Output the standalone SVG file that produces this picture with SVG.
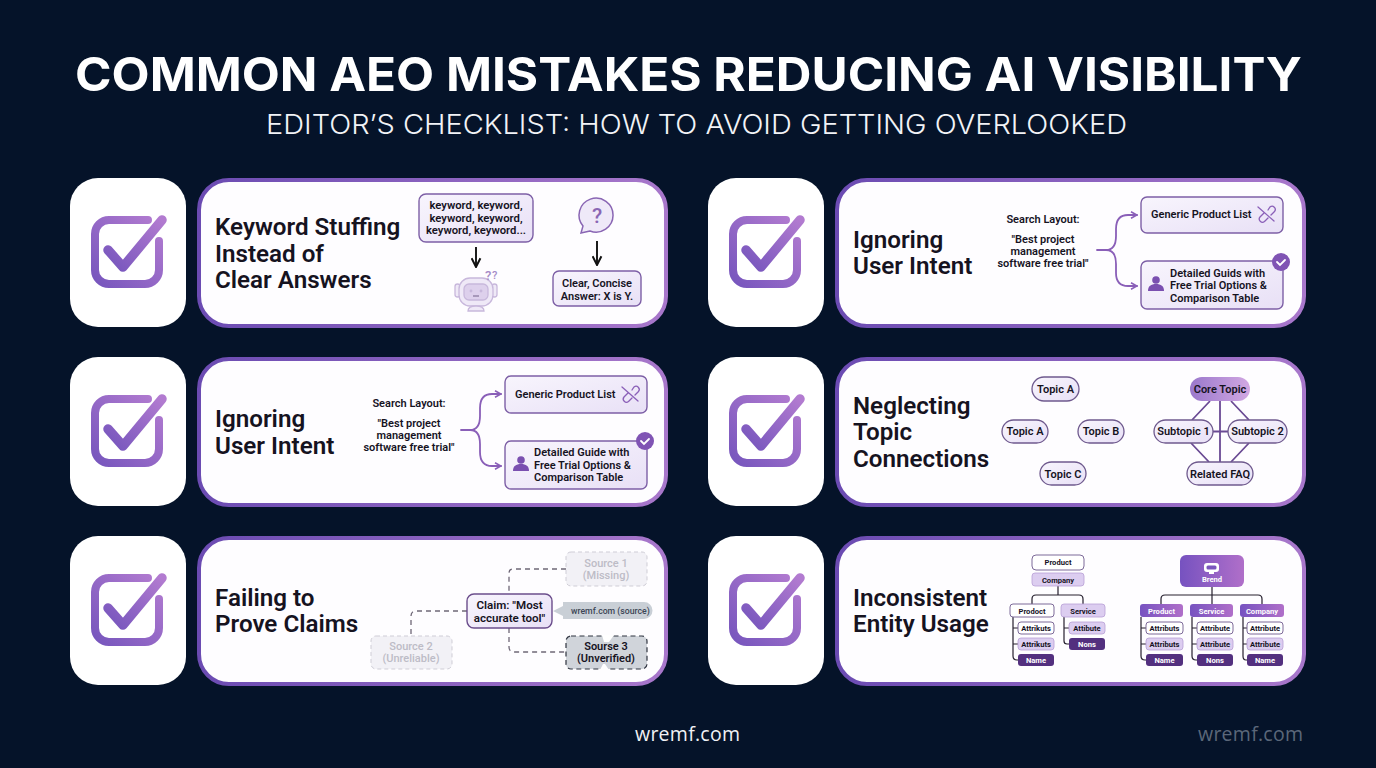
<svg xmlns="http://www.w3.org/2000/svg" width="1376" height="768" viewBox="0 0 1376 768">
<style>
text{font-family:Roboto,"Liberation Sans",sans-serif;fill:#16131f}
.title{font-family:Inter,"Liberation Sans",sans-serif;font-weight:700;font-size:47px;fill:#fff}
.sub{font-family:Inter,"Liberation Sans",sans-serif;font-weight:300;font-size:27.5px;fill:#f2f3f7}
.foot{font-family:"Open Sans","Liberation Sans",sans-serif;font-size:19.500px;fill:#f0f1f5}
.h{font-size:24.200px;font-weight:600}
.s{font-size:11px;font-weight:600;text-anchor:middle}
.l{font-size:11px;font-weight:600}
.t{font-size:7.600px;font-weight:700;text-anchor:middle}
.w{fill:#fff}
.faint{fill:#bdbcc6;font-weight:500}
.tile{fill:#fff}
.card{fill:#fefdff;stroke:url(#cardStroke);stroke-width:4}
.box{fill:url(#pale);stroke:#7d5fa6;stroke-width:1.400}
.pill{fill:url(#pale);stroke:#6f5a8e;stroke-width:1.300}
.ghost{fill:#f2f1f6;stroke:#cfcdd6;stroke-dasharray:4 3}
.br{fill:none;stroke:#8a5fb8;stroke-width:1.800;stroke-linecap:round;stroke-linejoin:round}
.dash{fill:none;stroke:#6f6877;stroke-width:1.300;stroke-dasharray:5 4}
.tree{fill:none;stroke:#26202f;stroke-width:1.200}
.net{stroke:#6a4a94;stroke-width:1.800}
.arrow{fill:none;stroke:#111;stroke-width:1.900}
.nw{fill:#fff;stroke:#7d6a99;stroke-width:1}
.nl{fill:#dccdf0;stroke:#b7a0d6;stroke-width:.8}
.nd{fill:#53307f}
.ng{fill:url(#grad)}
</style>
<defs>
<linearGradient id="cardStroke" x1="0" x2="1" y1="0" y2="0"><stop offset="0" stop-color="#6b4bb2"/><stop offset="1" stop-color="#a877cb"/></linearGradient>
<linearGradient id="grad" x1="0" x2="1" y1="0" y2="0"><stop offset="0" stop-color="#7652c0"/><stop offset="1" stop-color="#b06fc9"/></linearGradient>
<linearGradient id="chk" x1="0" x2="1" y1="1" y2="0"><stop offset="0" stop-color="#7756bd"/><stop offset="1" stop-color="#b27bd0"/></linearGradient>
<linearGradient id="core" x1="0" x2="1" y1="0" y2="0"><stop offset="0" stop-color="#9a78cc"/><stop offset="1" stop-color="#d2a8e2"/></linearGradient>
<linearGradient id="pale" x1="0" x2="1" y1="0" y2="1"><stop offset="0" stop-color="#f8f5fd"/><stop offset="1" stop-color="#e8e0f6"/></linearGradient>
<marker id="op" viewBox="0 0 10 10" refX="8.500" refY="5" markerWidth="8" markerHeight="8" markerUnits="userSpaceOnUse" orient="auto"><path d="M1 1 L8.500 5 L1 9" fill="none" stroke="#8a5fb8" stroke-width="2"/></marker>
<marker id="blk" viewBox="0 0 10 10" refX="9" refY="5" markerWidth="11" markerHeight="11" markerUnits="userSpaceOnUse" orient="auto"><path d="M1 1 L9 5 L1 9" fill="none" stroke="#111" stroke-width="1.800"/></marker>
<g id="check">
<rect x="0" y="0" width="116" height="149" rx="28" class="tile"/>
<path d="M78 42H39a14 14 0 0 0-14 14V92a14 14 0 0 0 14 14H75a14 14 0 0 0 14-14V63" fill="none" stroke="url(#chk)" stroke-width="8" stroke-linecap="round"/>
<path d="M38 72L53 89L92 42" fill="none" stroke="url(#chk)" stroke-width="9.500" stroke-linecap="round" stroke-linejoin="round"/>
</g>
<g id="brk"><path d="M-8-7L8 7M-2-1L-6 3a3.200 3.200 0 0 0 4.500 4.500L2 4M2-4L4-7a3.200 3.200 0 0 1 4.500 4.500L5 1" fill="none" stroke="#8a5fb8" stroke-width="1.300" stroke-linecap="round"/></g>
<g id="person"><circle cx="0" cy="-5" r="3.800" fill="#7a4fb0"/><path d="M-8 6c0-5 3-7 8-7s8 2 8 7z" fill="#7a4fb0"/></g>
<g id="badge"><circle r="9" fill="#8054b4"/><path d="M-4 0l3 3l5-5" fill="none" stroke="#fff" stroke-width="1.800" stroke-linecap="round"/></g>
</defs>
<rect width="1376" height="768" fill="#051329"/>
<g id="header">
<text class="title" x="75" y="91" textLength="1227" lengthAdjust="spacingAndGlyphs">COMMON AEO MISTAKES REDUCING AI VISIBILITY</text>
<text class="sub" x="266" y="134" textLength="861" lengthAdjust="spacingAndGlyphs">EDITOR’S CHECKLIST: HOW TO AVOID GETTING OVERLOOKED</text>
</g>
<g id="card-keyword"><use href="#check" x="70" y="178"/><rect class="card" x="199" y="180" width="467" height="146" rx="30"/>
<text class="h" x="215" y="235">Keyword Stuffing</text><text class="h" x="215" y="262">Instead of</text><text class="h" x="215" y="288">Clear Answers</text></g>
<g id="card-intent-left"><use href="#check" x="70" y="357"/><rect class="card" x="199" y="359" width="467" height="146" rx="30"/>
<text class="h" x="215" y="427">Ignoring</text><text class="h" x="215" y="454">User Intent</text></g>
<g id="card-claims"><use href="#check" x="70" y="536"/><rect class="card" x="199" y="538" width="467" height="146" rx="30"/>
<text class="h" x="215" y="606">Failing to</text><text class="h" x="215" y="632">Prove Claims</text></g>
<g id="card-intent-right"><use href="#check" x="708" y="178"/><rect class="card" x="837" y="180" width="467" height="146" rx="30"/>
<text class="h" x="853" y="248">Ignoring</text><text class="h" x="853" y="274">User Intent</text></g>
<g id="card-topics"><use href="#check" x="708" y="357"/><rect class="card" x="837" y="359" width="467" height="146" rx="30"/>
<text class="h" x="853" y="414">Neglecting</text><text class="h" x="853" y="440">Topic</text><text class="h" x="853" y="467">Connections</text></g>
<g id="card-entities"><use href="#check" x="708" y="536"/><rect class="card" x="837" y="538" width="467" height="146" rx="30"/>
<text class="h" x="853" y="606">Inconsistent</text><text class="h" x="853" y="632">Entity Usage</text></g>
<g id="connectors">
<path class="arrow" d="M476 247V267" marker-end="url(#blk)"/>
<path class="arrow" d="M597 241V265" marker-end="url(#blk)"/>
<path class="br" d="M461 430H470C478 430 480 424 480 416V408C480 399 484 394 492 394H501" marker-end="url(#op)"/>
<path class="br" d="M470 430C478 430 480 436 480 444V452C480 461 484 466 492 466H501" marker-end="url(#op)"/>
<path class="br" d="M1097 250H1106C1114 250 1116 244 1116 236V229C1116 220 1120 215 1128 215H1137" marker-end="url(#op)"/>
<path class="br" d="M1106 250C1114 250 1116 256 1116 264V273C1116 282 1120 286 1128 286H1137" marker-end="url(#op)"/>
<path class="dash" d="M566 569H513Q509 569 509 573V594M467 611H416Q411 611 411 616V636M509 628V647Q509 652 514 652H566"/>
<path class="net" d="M1210 401L1192 420M1231 401L1249 420M1220 401V462M1213 431.500H1228M1191 443L1209 462M1249 443L1231 462"/>
<path class="tree" d="M1058 586V595M1032 604V599Q1032 595 1036 595H1079Q1083 595 1083 599V604"/>
<path class="tree" d="M1013 617V656Q1013 660 1017 660H1018M1013 628H1018M1013 644H1018M1064 617V641Q1064 644 1067 644H1069M1064 628H1069"/>
<path class="tree" d="M1212 587V604M1161 604V599Q1161 595 1165 595H1258Q1262 595 1262 599V604"/>
<path class="tree" d="M1141 617V656Q1141 660 1145 660H1146M1141 628H1146M1141 644H1146M1192 617V656Q1192 660 1196 660H1197M1192 628H1197M1192 644H1197M1243 617V656Q1243 660 1246 660H1247M1243 628H1247M1243 644H1247"/>
</g>
<g id="n-stuffed"><rect class="box" x="419" y="194" width="114" height="48" rx="7"/>
<text class="s" x="476" y="209" style="font-size:11.300px">keyword, keyword,</text><text class="s" x="476" y="222" style="font-size:11.300px">keyword, keyword,</text><text class="s" x="476" y="234" style="font-size:11.300px">keyword, keyword...</text></g>
<g id="n-robot"><g fill="#efe9f7" stroke="#c8b8dc" stroke-width="1.300">
<rect x="455" y="284" width="5" height="13" rx="2.500"/><rect x="492" y="284" width="5" height="13" rx="2.500"/>
<rect x="459" y="278" width="34" height="28" rx="11"/>
<rect x="464" y="284" width="24" height="16" rx="5" fill="#ddd0ec"/>
<path d="M468 311c0-4 4-5 8-5s8 1 8 5z"/>
<circle cx="471" cy="291" r=".8" fill="#8a7aa0"/><circle cx="481" cy="291" r=".8" fill="#8a7aa0"/><path d="M473 296h6" fill="none" stroke="#8a7aa0"/></g>
<text x="485" y="280" style="font-size:13px;fill:#a58cc8;font-weight:500">?</text><text x="492" y="279" style="font-size:11px;fill:#a58cc8;font-weight:500">?</text></g>
<g id="n-question"><path d="M590 231l-9 2 2-7a17 17 0 1 1 7 5z" fill="#efe9f8" stroke="#8a66b4" stroke-width="1.500"/>
<text x="597" y="223" style="font-size:21px;font-weight:500;fill:#8a66b4;text-anchor:middle">?</text></g>
<g id="n-clear"><rect class="box" x="553" y="271" width="88" height="35" rx="6"/>
<text class="s" x="597" y="287">Clear, Concise</text><text class="s" x="597" y="300">Answer: X is Y.</text></g>
<g id="n-layout-left"><text class="s" x="409" y="407">Search Layout:</text>
<text class="s" x="409" y="427">"Best project</text><text class="s" x="409" y="439">management</text><text class="s" x="409" y="451">software free trial"</text></g>
<g id="n-list-left"><rect class="box" x="505" y="376" width="142" height="37" rx="6"/>
<text class="l" x="515" y="398">Generic Product List</text><use href="#brk" x="630" y="394"/></g>
<g id="n-guide-left"><rect class="box" x="505" y="441" width="142" height="48" rx="6"/>
<use href="#person" x="521" y="465"/>
<text class="l" x="534" y="456">Detailed Guide with</text><text class="l" x="534" y="469">Free Trial Options &amp;</text><text class="l" x="534" y="481">Comparison Table</text>
<use href="#badge" x="645" y="441"/></g>
<g id="n-source1"><rect class="ghost" x="566" y="552" width="81" height="34" rx="5"/>
<text class="s faint" x="606" y="567">Source 1</text><text class="s faint" x="606" y="579">(Missing)</text></g>
<g id="n-source2"><rect class="ghost" x="371" y="636" width="81" height="33" rx="5"/>
<text class="s faint" x="411" y="650">Source 2</text><text class="s faint" x="411" y="662">(Unreliable)</text></g>
<g id="n-claim"><rect class="box" x="467" y="594" width="85" height="34" rx="7" style="stroke:#6b4d8c"/>
<text class="s" x="509.500" y="609" style="font-size:11.600px">Claim: "Most</text><text class="s" x="509.500" y="622" style="font-size:11.600px">accurate tool"</text></g>
<g id="n-wremf"><path d="M553 611L563 606V602H644a8.500 8.500 0 0 1 0 17H563V616z" fill="#c9cfd6"/>
<text x="571" y="614" style="font-size:8.700px;fill:#3c4655;font-weight:500">wremf.com (source)</text></g>
<g id="n-source3"><rect x="566" y="636" width="81" height="33" rx="5" fill="#d0d4da" stroke="#2f3440" stroke-width="1.200" stroke-dasharray="5 3.500"/>
<path d="M602 635H614L609 642H604zM600 670H609L605 664H603z" fill="#fff"/>
<text class="s" x="606" y="650">Sourse 3</text><text class="s" x="606" y="662">(Unverified)</text></g>
<g id="n-layout-right"><text class="s" x="1043" y="223">Search Layout:</text>
<text class="s" x="1043" y="243">"Best project</text><text class="s" x="1043" y="255">management</text><text class="s" x="1043" y="267">software free trial"</text></g>
<g id="n-list-right"><rect class="box" x="1141" y="197" width="142" height="36" rx="6"/>
<text class="l" x="1151" y="218">Generic Product List</text><use href="#brk" x="1266" y="214"/></g>
<g id="n-guide-right"><rect class="box" x="1141" y="261" width="142" height="48" rx="6"/>
<use href="#person" x="1156" y="285"/>
<text class="l" x="1170" y="277">Detailed Guids with</text><text class="l" x="1170" y="289">Free Trial Options &amp;</text><text class="l" x="1170" y="302">Comparison Table</text>
<use href="#badge" x="1281" y="262"/></g>
<g id="n-topic-a1"><rect class="pill" x="1032" y="377" width="47" height="24" rx="12"/><text class="s" x="1055.500" y="393">Topic A</text></g>
<g id="n-topic-a2"><rect class="pill" x="1002" y="420" width="46" height="23" rx="11.500"/><text class="s" x="1025" y="435">Topic A</text></g>
<g id="n-topic-b"><rect class="pill" x="1078" y="420" width="46" height="23" rx="11.500"/><text class="s" x="1101" y="435">Topic B</text></g>
<g id="n-topic-c"><rect class="pill" x="1040" y="462" width="46" height="23" rx="11.500"/><text class="s" x="1063" y="478">Topic C</text></g>
<g id="n-core"><rect x="1190" y="377" width="60" height="24" rx="12" fill="url(#core)"/><text class="s" x="1220" y="393">Core Topic</text></g>
<g id="n-sub1"><rect class="pill" x="1154" y="420" width="59" height="23" rx="11.500"/><text class="s" x="1183.500" y="435">Subtopic 1</text></g>
<g id="n-sub2"><rect class="pill" x="1228" y="420" width="59" height="23" rx="11.500"/><text class="s" x="1257.500" y="435">Subtopic 2</text></g>
<g id="n-faq"><rect class="pill" x="1187" y="462" width="66" height="23" rx="11.500"/><text class="s" x="1220" y="478">Related FAQ</text></g>
<g id="n-e-product"><rect class="nw" x="1032" y="555" width="52" height="15" rx="4"/><text class="t" x="1058" y="565">Product</text></g>
<g id="n-e-company"><rect class="nl" x="1032" y="573" width="52" height="13" rx="3"/><text class="t" x="1058" y="583">Company</text></g>
<g id="n-e-prodoct"><rect class="nw" x="1010" y="604" width="44" height="13" rx="3"/><text class="t" x="1032" y="614">Prodoct</text></g>
<g id="n-e-service"><rect class="nl" x="1061" y="604" width="44" height="13" rx="3"/><text class="t" x="1083" y="614">Service</text></g>
<g id="n-e-a1"><rect class="nw" x="1018" y="622" width="36" height="12" rx="3"/><text class="t" x="1036" y="631">Attrikuts</text></g>
<g id="n-e-a2"><rect class="nl" x="1018" y="638" width="36" height="12" rx="3"/><text class="t" x="1036" y="647">Attrikuts</text></g>
<g id="n-e-a3"><rect class="nd" x="1018" y="654" width="36" height="12" rx="3"/><text class="t w" x="1036" y="663">Name</text></g>
<g id="n-e-b1"><rect class="nl" x="1069" y="622" width="36" height="12" rx="3"/><text class="t" x="1087" y="631">Attibute</text></g>
<g id="n-e-b2"><rect class="nd" x="1069" y="638" width="36" height="12" rx="3"/><text class="t w" x="1087" y="647">Nons</text></g>
<g id="n-brand"><rect class="ng" x="1180" y="555" width="64" height="32" rx="6"/>
<rect x="1204" y="563" width="15" height="9" rx="3" fill="#fff"/><rect x="1206.500" y="565.500" width="10" height="4" rx="1.500" fill="#7a56bd"/><rect x="1209" y="572" width="5" height="2" fill="#fff"/>
<text class="t w" x="1212" y="582">Brend</text></g>
<g id="n-c1"><rect class="ng" x="1140" y="604" width="43" height="13" rx="3"/><text class="t w" x="1161.500" y="614">Product</text></g>
<g id="n-c2"><rect class="ng" x="1190" y="604" width="43" height="13" rx="3"/><text class="t w" x="1211.500" y="614">Service</text></g>
<g id="n-c3"><rect class="ng" x="1240" y="604" width="44" height="13" rx="3"/><text class="t w" x="1262" y="614">Company</text></g>
<g id="n-c1a"><rect class="nw" x="1146" y="622" width="37" height="12" rx="3"/><text class="t" x="1164.500" y="631">Attributs</text></g>
<g id="n-c1b"><rect class="nl" x="1146" y="638" width="37" height="12" rx="3"/><text class="t" x="1164.500" y="647">Attributs</text></g>
<g id="n-c1c"><rect class="nd" x="1146" y="654" width="37" height="12" rx="3"/><text class="t w" x="1164.500" y="663">Name</text></g>
<g id="n-c2a"><rect class="nw" x="1197" y="622" width="36" height="12" rx="3"/><text class="t" x="1215" y="631">Attribute</text></g>
<g id="n-c2b"><rect class="nl" x="1197" y="638" width="36" height="12" rx="3"/><text class="t" x="1215" y="647">Attribute</text></g>
<g id="n-c2c"><rect class="nd" x="1197" y="654" width="36" height="12" rx="3"/><text class="t w" x="1215" y="663">Nons</text></g>
<g id="n-c3a"><rect class="nw" x="1247" y="622" width="36" height="12" rx="3"/><text class="t" x="1265" y="631">Attribute</text></g>
<g id="n-c3b"><rect class="nl" x="1247" y="638" width="36" height="12" rx="3"/><text class="t" x="1265" y="647">Attribute</text></g>
<g id="n-c3c"><rect class="nd" x="1247" y="654" width="36" height="12" rx="3"/><text class="t w" x="1265" y="663">Name</text></g>
<g id="footer">
<text class="foot" x="635" y="741" textLength="105">wremf.com</text>
<text class="foot" x="1198" y="741" textLength="105" style="fill:#5b6779">wremf.com</text>
</g>
</svg>
